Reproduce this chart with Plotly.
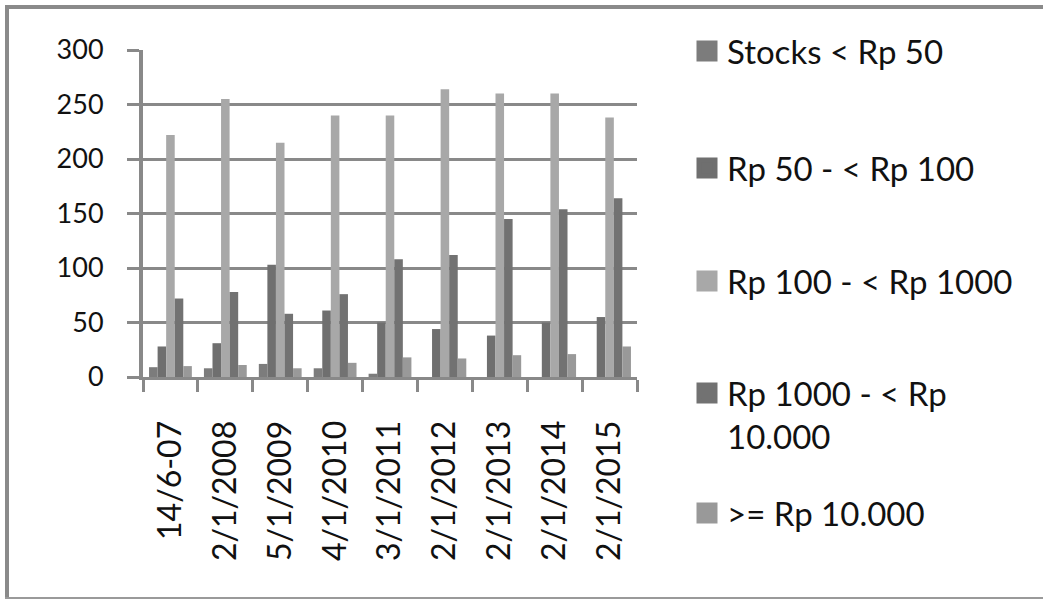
import plotly.graph_objects as go

categories = ["14/6-07", "2/1/2008", "5/1/2009", "4/1/2010", "3/1/2011",
              "2/1/2012", "2/1/2013", "2/1/2014", "2/1/2015"]
stocks_lt_50 = [9, 8, 12, 8, 3, 0, 0, 0, 0]
rp_50_100 = [28, 31, 103, 61, 50, 44, 38, 50, 55]
rp_100_1000 = [222, 255, 215, 240, 240, 264, 260, 260, 238]
rp_1000_10000 = [72, 78, 58, 76, 108, 112, 145, 154, 164]
rp_ge_10000 = [10, 11, 8, 13, 18, 17, 20, 21, 28]

series_names = ["Stocks < Rp 50", "Rp 50 - < Rp 100", "Rp 100 - < Rp 1000",
                "Rp 1000 - < Rp<br>10.000", ">= Rp 10.000"]
series_values = [stocks_lt_50, rp_50_100, rp_100_1000, rp_1000_10000, rp_ge_10000]
colors = ["#7c7c7c", "#6f6f6f", "#a8a8a8", "#727272", "#999999"]

W, H = 1043, 600
L, R, T, B = 143, 406, 50, 223
FONT = "Lato"
GRID = "#898989"
TXT = "#111111"

fig = go.Figure()
for name, vals, col in zip(series_names, series_values, colors):
    fig.add_trace(go.Bar(x=categories, y=vals, name=name, marker_color=col,
                         marker_line_width=0, showlegend=False))

pw = W - L - R
ph = H - T - B
def px(x):
    return (x - L) / pw
def py(y):
    return 1 - (y - T) / ph

legend_centers = [51, 168, 281, 396, 513]
legend_valign = ["middle", "middle", "middle", "top", "middle"]
legend_anchor = ["middle", "middle", "middle", "top", "middle"]
legend_layout = {}
for i, (name, col) in enumerate(zip(series_names, colors)):
    key = "legend" if i == 0 else f"legend{i+1}"
    fig.add_trace(go.Scatter(x=[None], y=[None], mode="markers", name=name,
                             legend=key,
                             marker=dict(symbol="square", size=16, color=col,
                                         line=dict(color=col, width=5))))
    yc = legend_centers[i]
    if legend_anchor[i] == "top":
        yc = yc - 31
    legend_layout[key] = dict(x=px(687), y=py(yc), xanchor="left", yanchor=legend_anchor[i],
                              valign=legend_valign[i],
                              font=dict(family=FONT, size=33, color=TXT),
                              bgcolor="rgba(0,0,0,0)")

shapes = [
    dict(type="line", xref="paper", yref="paper", x0=px(7), x1=px(7), y0=py(5), y1=py(598),
         line=dict(color="#8a8a8a", width=4)),
    dict(type="line", xref="paper", yref="paper", x0=px(5), x1=px(W), y0=py(7), y1=py(7),
         line=dict(color="#8a8a8a", width=4)),
    dict(type="line", xref="paper", yref="paper", x0=px(5), x1=px(W), y0=py(598), y1=py(598),
         line=dict(color="#9a9a9a", width=2)),
]

fig.update_layout(
    width=W, height=H,
    margin=dict(l=L, r=R, t=T, b=B),
    paper_bgcolor="white", plot_bgcolor="white",
    font=dict(family=FONT, size=26, color=TXT),
    barmode="group", bargap=0.22, bargroupgap=0,
    shapes=shapes,
    xaxis=dict(type="category", tickangle=-90, showline=True, linecolor=GRID, linewidth=3,
               ticks="outside", tickson="boundaries", ticklen=12, tickwidth=3, tickcolor=GRID,
               showgrid=False, ticklabelstandoff=28,
               tickfont=dict(family=FONT, size=32, color=TXT)),
    yaxis=dict(range=[0, 300], tickvals=[0, 50, 100, 150, 200, 250, 300],
               showgrid=True, gridcolor=GRID, gridwidth=3, showline=True, linecolor=GRID,
               linewidth=4, ticks="outside", ticklen=12, tickwidth=3, tickcolor=GRID,
               zeroline=False, ticklabelstandoff=18,
               tickfont=dict(family=FONT, size=27, color=TXT)),
    **legend_layout,
)

fig.write_html("out.html")
